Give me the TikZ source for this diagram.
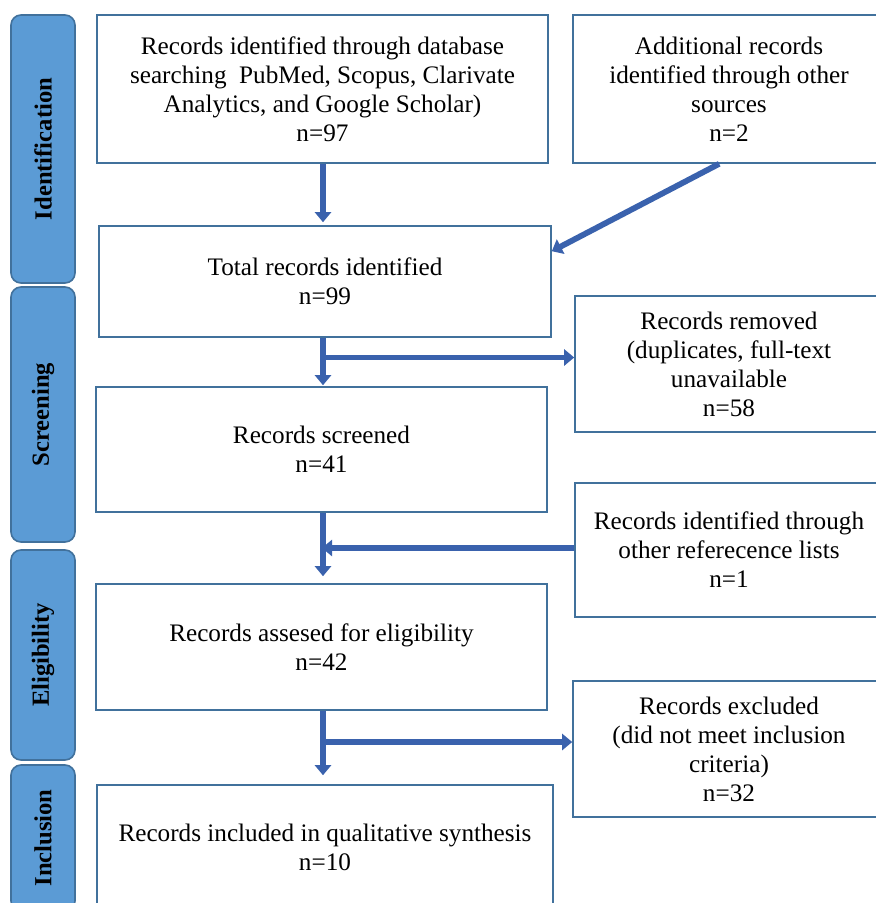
\documentclass[tikz,border=0pt]{standalone}
\usepackage{fontspec}
\setmainfont{Liberation Serif}
\usetikzlibrary{arrows.meta}
\definecolor{bord}{HTML}{41719C}
\definecolor{arr}{HTML}{3A62AD}
\definecolor{barfill}{HTML}{5B9BD5}
\begin{document}
\begin{tikzpicture}[x=1pt,y=-1pt,
  box/.style={draw=bord,line width=1.6pt,fill=white,align=center,
    font=\fontsize{25.2}{29}\selectfont,inner sep=0pt},
  bar/.style={draw=bord,fill=barfill,line width=1.6pt,rounded corners=10pt,
    rotate=90,inner sep=0pt,minimum height=64pt,
    font=\bfseries\fontsize{24.6}{28}\selectfont},
  flow/.style={draw=arr,line width=5.8pt,-{Triangle[width=16pt,length=10pt]}}]
\useasboundingbox (0,0) rectangle (876,903);
\clip (0,0) rectangle (876,903);
% phase bars
\node[bar,minimum width=268pt] (pid) at (43,149) {Identification};
\node[bar,minimum width=255pt] (psc) at (43,414.5) {Screening};
\node[bar,minimum width=210pt] (pel) at (43,655) {Eligibility};
\node[bar,minimum width=146pt] (pin) at (43,838) {Inclusion};
% boxes
\node[box,minimum width=451pt,minimum height=148pt] (b1) at (322.5,89)
  {Records identified through database\\searching\ \ PubMed, Scopus, Clarivate\\Analytics, and Google Scholar)\\n=97};
\node[box,minimum width=312pt,minimum height=148pt] (b2) at (729,89)
  {Additional records\\identified through other\\sources\\n=2};
\node[box,minimum width=452pt,minimum height=111pt] (b3) at (325,281.5)
  {Total records identified\\n=99};
\node[box,minimum width=308pt,minimum height=136pt] (b4) at (729,364)
  {Records removed\\(duplicates, full-text\\unavailable\\n=58};
\node[box,minimum width=451pt,minimum height=125pt] (b5) at (321.5,449.5)
  {Records screened\\n=41};
\node[box,minimum width=308pt,minimum height=134pt] (b6) at (729,550)
  {Records identified through\\other referecence lists\\n=1};
\node[box,minimum width=451pt,minimum height=126pt] (b7) at (321.5,647)
  {Records assesed for eligibility\\n=42};
\node[box,minimum width=312pt,minimum height=136pt] (b8) at (729,749)
  {Records excluded\\(did not meet inclusion\\criteria)\\n=32};
\node[box,minimum width=456pt,minimum height=125pt] (b9) at (325,847.5)
  {Records included in qualitative synthesis\\n=10};
% junction coordinates
\coordinate (j1) at (323,357.5);
\coordinate (j2) at (323,548);
\coordinate (j3) at (323,742);
% connectors
\draw[flow,shorten >=3pt] (b1.south -| j1) -- (b3.north -| j1);
\draw[flow] ([xshift=147pt]b2.south west) -- ([yshift=-26pt]b3.north east);
\draw[flow,shorten >=1pt] (b3.south -| j1) -- (b5.north -| j1);
\draw[flow,shorten <=-2pt] (j1) -- (j1 -| b4.west);
\draw[flow,shorten >=7pt] (b5.south -| j2) -- (b7.north -| j2);
\draw[flow,shorten >=-3pt] (j2 -| b6.west) -- ([xshift=2pt]j2);
\draw[flow,shorten >=9pt] (b7.south -| j3) -- (b9.north -| j3);
\draw[flow,shorten <=-2pt] (j3) -- (j3 -| b8.west);
\end{tikzpicture}
\end{document}
